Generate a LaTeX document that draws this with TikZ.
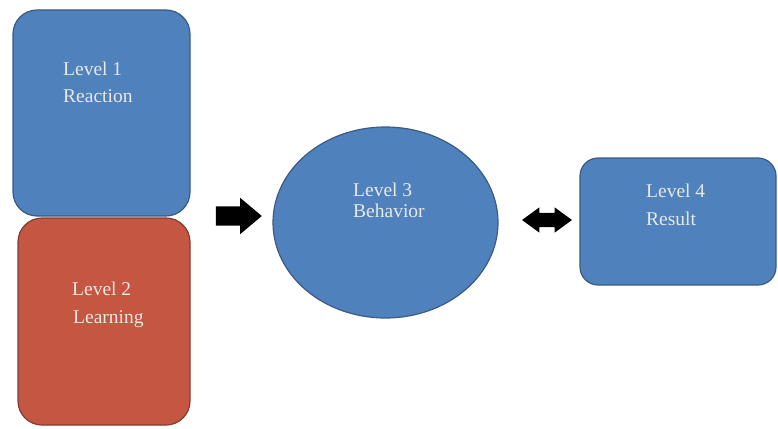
\documentclass[tikz,border=0pt]{standalone}
\usepackage{fontspec}
\setmainfont{Liberation Serif}
\usetikzlibrary{shapes.geometric,shapes.arrows}
\definecolor{boxblue}{RGB}{79,129,189}
\definecolor{blueedge}{RGB}{60,90,130}
\definecolor{boxred}{RGB}{196,86,66}
\definecolor{rededge}{RGB}{130,60,50}
\definecolor{labelgrey}{RGB}{232,232,228}
\tikzset{
  bluebox/.style={rectangle, draw=blueedge, line width=1.2pt, fill=boxblue, rounded corners=#1, inner sep=0pt},
  redbox/.style={rectangle, draw=rededge, line width=1.2pt, fill=boxred, rounded corners=#1, inner sep=0pt},
  lbl/.style={anchor=base west, inner sep=0pt, text=labelgrey, font=\fontsize{19.5}{19.5}\selectfont},
  fatarrow/.style={single arrow, fill=black, draw=none, inner xsep=0pt, inner ysep=9.5pt, minimum height=46pt, single arrow head extend=8.5pt, single arrow tip angle=80},
  twowayarrow/.style={double arrow, fill=black, draw=none, inner xsep=0pt, inner ysep=7pt, minimum height=50pt, double arrow head extend=5.5pt, double arrow tip angle=72}
}
\begin{document}
\begin{tikzpicture}[x=1pt,y=-1pt]
\useasboundingbox (0,0) rectangle (778,428);
\fill[white] (0,0) rectangle (778,428);
% Level 1
\node[bluebox=24pt, minimum width=177pt, minimum height=206pt] (l1) at (101.5,113) {};
\node[lbl] (l1a) at (63,75) {Level 1};
\node[lbl] (l1b) at (63,102) {Reaction};
% Level 2
\node[redbox=24pt, minimum width=172pt, minimum height=207pt] (l2) at (104,321.5) {};
\node[lbl] (l2a) at (72,295) {Level 2};
\node[lbl] (l2b) at (73,323) {Learning};
% Level 3
\node[ellipse, draw=blueedge, line width=1.2pt, fill=boxblue, minimum width=225pt, minimum height=191pt, inner sep=0pt] (l3) at (385.5,222.5) {};
\node[lbl] (l3a) at (353,196) {Level 3};
\node[lbl] (l3b) at (353,217) {Behavior};
% Level 4
\node[bluebox=18pt, minimum width=196pt, minimum height=127pt] (l4) at (678,221.5) {};
\node[lbl] (l4a) at (646,197) {Level 4};
\node[lbl] (l4b) at (646,225) {Result};
% arrows
\node[fatarrow] (a1) at (233,216) {};
\node[twowayarrow] (a2) at (547,220) {};
\end{tikzpicture}
\end{document}
